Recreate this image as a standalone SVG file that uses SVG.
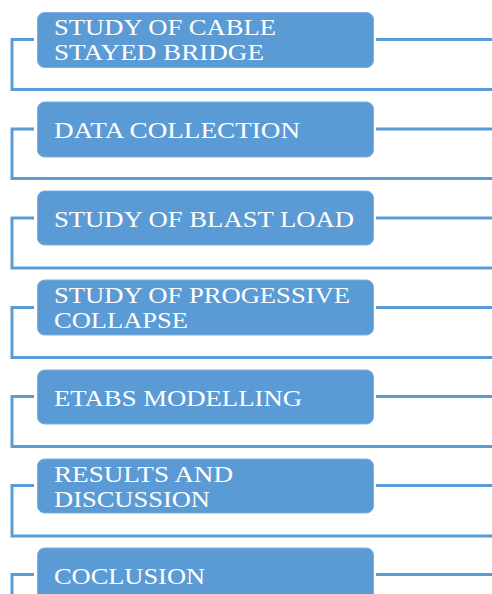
<svg xmlns="http://www.w3.org/2000/svg" width="492" height="594" viewBox="0 0 492 594">
  <style>
    .box { fill: #5B9BD5; stroke: #7FB0E0; stroke-width: 1; }
    .lbl { font-family: "Liberation Serif", "Times New Roman", serif; font-size: 24px; fill: #FFFFFF; }
    .wire { fill: none; stroke: #5B9BD5; stroke-width: 3; }
  </style>
  <rect width="492" height="594" fill="#FFFFFF"/>

  <!-- connectors: left bracket, right stub and the full-width rule under each step -->
  <g id="connectors">
    <path class="wire" d="M34 39.5 H12 V89.5 H492 M376 39.5 H492"/>
    <path class="wire" d="M34 129 H12 V178.5 H492 M376 129 H492"/>
    <path class="wire" d="M34 218 H12 V268 H492 M376 218 H492"/>
    <path class="wire" d="M34 307.5 H12 V357.5 H492 M376 307.5 H492"/>
    <path class="wire" d="M34 396.5 H12 V446.5 H492 M376 396.5 H492"/>
    <path class="wire" d="M34 485.5 H12 V536 H492 M376 485.5 H492"/>
    <path class="wire" d="M34 574.5 H12 V600 M376 574.5 H492"/>
  </g>

  <g id="step1">
    <rect class="box" x="37.5" y="12.5" width="336" height="55" rx="7"/>
    <text class="lbl" x="54" y="35" textLength="222" lengthAdjust="spacingAndGlyphs">STUDY OF CABLE</text>
    <text class="lbl" x="54" y="60" textLength="210" lengthAdjust="spacingAndGlyphs">STAYED BRIDGE</text>
  </g>
  <g id="step2">
    <rect class="box" x="37.5" y="102" width="336" height="55" rx="7"/>
    <text class="lbl" x="54" y="138" textLength="246" lengthAdjust="spacingAndGlyphs">DATA COLLECTION</text>
  </g>
  <g id="step3">
    <rect class="box" x="37.5" y="191" width="336" height="54" rx="7"/>
    <text class="lbl" x="54" y="227" textLength="300" lengthAdjust="spacingAndGlyphs">STUDY OF BLAST LOAD</text>
  </g>
  <g id="step4">
    <rect class="box" x="37.5" y="280" width="336" height="55" rx="7"/>
    <text class="lbl" x="54" y="303" textLength="296" lengthAdjust="spacingAndGlyphs">STUDY OF PROGESSIVE</text>
    <text class="lbl" x="54" y="328" textLength="134" lengthAdjust="spacingAndGlyphs">COLLAPSE</text>
  </g>
  <g id="step5">
    <rect class="box" x="37.5" y="370" width="336" height="54" rx="7"/>
    <text class="lbl" x="54" y="406" textLength="248" lengthAdjust="spacingAndGlyphs">ETABS MODELLING</text>
  </g>
  <g id="step6">
    <rect class="box" x="37.5" y="459" width="336" height="54" rx="7"/>
    <text class="lbl" x="54" y="482" textLength="179" lengthAdjust="spacingAndGlyphs">RESULTS AND</text>
    <text class="lbl" x="54" y="507" textLength="156" lengthAdjust="spacingAndGlyphs">DISCUSSION</text>
  </g>
  <g id="step7">
    <rect class="box" x="37.5" y="548" width="336" height="56" rx="7"/>
    <text class="lbl" x="54" y="584" textLength="151" lengthAdjust="spacingAndGlyphs">COCLUSION</text>
  </g>
</svg>
